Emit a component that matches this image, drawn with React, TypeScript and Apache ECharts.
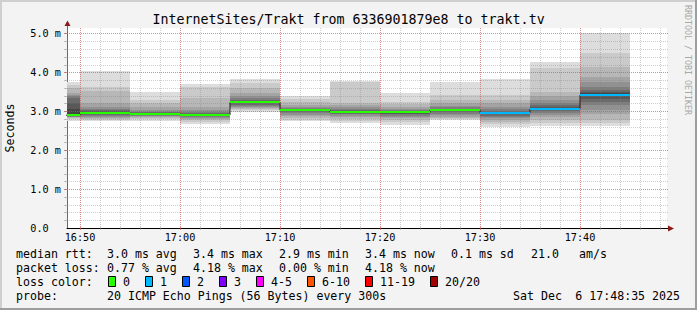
import React, { useEffect, useRef } from "react";
import * as echarts from "echarts";

const WIDTH = 697;
const HEIGHT = 310;

// time axis in minutes since midnight
const timeStart = 1008.7; // 16:48:42
const timeEnd = 1068.7; // 17:48:42
const stepMinutes = 5;
const yMax = 5.14;

const bucketEnds = [1010, 1015, 1020, 1025, 1030, 1035, 1040, 1045, 1050, 1055, 1060, 1065];
const medianMs = [2.9, 2.96, 2.93, 2.905, 3.23, 3.03, 2.98, 2.97, 3.03, 2.96, 3.06, 3.42];
const lossCount = [0, 0, 0, 0, 0, 0, 0, 0, 0, 1, 1, 1];

// 20 sorted ping round-trip times (ms) per 5-minute bucket
const pingsMs = [
  [2.75, 2.8, 2.82, 2.84, 2.85, 2.86, 2.87, 2.88, 2.89, 2.9, 2.93, 3.05, 3.2, 3.33, 3.38, 3.42, 3.46, 3.59, 3.68, 3.76],
  [2.75, 2.77, 2.8, 2.83, 2.86, 2.88, 2.9, 2.92, 2.93, 2.95, 2.97, 2.98, 3.0, 3.02, 3.05, 3.12, 3.22, 3.52, 3.63, 4.04],
  [2.75, 2.79, 2.82, 2.85, 2.87, 2.89, 2.9, 2.91, 2.92, 2.93, 2.94, 2.95, 2.96, 2.97, 2.99, 3.03, 3.12, 3.22, 3.29, 3.5],
  [2.67, 2.72, 2.77, 2.8, 2.83, 2.85, 2.87, 2.89, 2.9, 2.905, 2.915, 2.92, 2.93, 2.95, 2.98, 3.02, 3.12, 3.33, 3.63, 3.7],
  [2.99, 3.03, 3.05, 3.08, 3.12, 3.14, 3.17, 3.2, 3.22, 3.23, 3.24, 3.25, 3.27, 3.29, 3.33, 3.39, 3.46, 3.59, 3.72, 3.83],
  [2.75, 2.78, 2.82, 2.87, 2.91, 2.95, 2.98, 3.0, 3.02, 3.03, 3.04, 3.045, 3.05, 3.06, 3.08, 3.12, 3.17, 3.24, 3.31, 3.38],
  [2.69, 2.74, 2.8, 2.85, 2.89, 2.92, 2.94, 2.96, 2.97, 2.975, 2.985, 2.99, 3.0, 3.02, 3.05, 3.1, 3.15, 3.22, 3.76, 3.79],
  [2.65, 2.72, 2.78, 2.82, 2.86, 2.89, 2.92, 2.94, 2.96, 2.975, 2.985, 2.99, 3.0, 3.01, 3.03, 3.06, 3.12, 3.18, 3.25, 3.48],
  [2.78, 2.8, 2.83, 2.86, 2.9, 2.93, 2.97, 3.0, 3.02, 3.035, 3.045, 3.05, 3.06, 3.07, 3.1, 3.14, 3.21, 3.3, 3.42, 3.76],
  [2.6, 2.66, 2.72, 2.78, 2.83, 2.86, 2.89, 2.92, 2.94, 2.955, 2.965, 2.975, 2.99, 3.01, 3.05, 3.12, 3.21, 3.3, 3.42, 3.83],
  [2.62, 2.7, 2.78, 2.86, 2.9, 2.95, 3.0, 3.03, 3.05, 3.065, 3.075, 3.09, 3.11, 3.15, 3.21, 3.28, 3.38, 3.5, 4.11, 4.27],
  [2.62, 2.7, 2.78, 2.92, 3.03, 3.15, 3.25, 3.32, 3.38, 3.42, 3.44, 3.46, 3.5, 3.55, 3.63, 3.75, 3.89, 4.15, 4.49, 5.0],
];

const xLabelTimes = [1010, 1020, 1030, 1040, 1050, 1060];

const lossColors = ["#26ff00", "#00b8ff", "#0059ff", "#7e00ff", "#ff00ff", "#ff5500", "#ff0000", "#a10000"];
const lossLabels = ["0", "1", "2", "3", "4-5", "6-10", "11-19", "20/20"];

const titleText = "InternetSites/Trakt from 6336901879e8 to trakt.tv";
const rttStats = ["3.0 ms avg", "3.4 ms max", "2.9 ms min", "3.4 ms now", "0.1 ms sd", "21.0", "am/s"];
const lossStats = ["0.77 % avg", "4.18 % max", "0.00 % min", "4.18 % now"];
const probeText = "20 ICMP Echo Pings (56 Bytes) every 300s";
const dateParts = ["Sat Dec", "6 17:48:35 2025"];
const creditText = "RRDTOOL / TOBI OETIKER";

// layout
const MONO = "'DejaVu Sans Mono', monospace";
const GRID = { left: 67, top: 28, width: 600, height: 200 };
const statX = [107, 193, 279, 365, 451, 531, 579];
const lineY = [254, 268.3, 282, 296];
const smokeGrays = [221, 202, 183, 164, 145, 126, 107, 88, 69, 50];

function lossIndex(n: number) {
  if (n <= 0) return 0;
  if (n <= 3) return n;
  if (n <= 5) return 4;
  if (n <= 10) return 5;
  if (n <= 19) return 6;
  return 7;
}

function fmtTime(m: number) {
  const h = Math.floor(m / 60);
  const mm = Math.round(m - h * 60);
  return `${h}:${mm < 10 ? "0" : ""}${mm}`;
}

function buildOption() {
  // grid line definitions: [orientation (0 vertical, 1 horizontal), value, major]
  const gridDefs: number[][] = [];
  for (let t = 1010; t <= timeEnd; t += 2) gridDefs.push([0, t, 0]);
  for (let k = 1; k * 0.2 <= yMax; k++) gridDefs.push([1, +(k * 0.2).toFixed(1), 0]);
  for (let t = 1010; t <= timeEnd; t += 10) gridDefs.push([0, t, 1]);
  for (let v = 1; v <= yMax; v++) gridDefs.push([1, v, 1]);

  const graphics: any[] = [];
  const txt = (x: number, y: number, text: string, extra: any = {}) =>
    graphics.push({
      type: "text",
      x,
      y,
      silent: true,
      style: {
        text,
        fontFamily: MONO,
        fontSize: 11.6,
        fill: "#000",
        align: "left",
        verticalAlign: "middle",
        ...extra,
      },
    });

  // frame
  graphics.push({ type: "rect", shape: { x: 0, y: 0, width: WIDTH, height: 2 }, style: { fill: "#cfcfcf" }, silent: true });
  graphics.push({ type: "rect", shape: { x: 0, y: 0, width: 2, height: HEIGHT }, style: { fill: "#cfcfcf" }, silent: true });
  graphics.push({ type: "rect", shape: { x: 0, y: HEIGHT - 2, width: WIDTH, height: 2 }, style: { fill: "#9e9e9e" }, silent: true });
  graphics.push({ type: "rect", shape: { x: WIDTH - 2, y: 0, width: 2, height: HEIGHT }, style: { fill: "#9e9e9e" }, silent: true });

  // title
  txt(WIDTH / 2, 19.4, titleText, { fontSize: 13.3, align: "center" });

  // credit
  graphics.push({
    type: "text",
    x: 687.5,
    y: 60,
    rotation: -Math.PI / 2,
    silent: true,
    style: { text: creditText, fontFamily: MONO, fontSize: 8.3, fill: "#a8a8a8", align: "center", verticalAlign: "middle" },
  });

  // axis arrows
  const gx = GRID.left;
  const gb = GRID.top + GRID.height;
  const gr = GRID.left + GRID.width;
  graphics.push({ type: "line", shape: { x1: gx + 0.5, y1: GRID.top, x2: gx + 0.5, y2: 25 }, style: { stroke: "#6a6a6a", lineWidth: 1 }, silent: true });
  graphics.push({ type: "polygon", shape: { points: [[gx - 2.5, 26], [gx + 3.5, 26], [gx + 0.5, 20.5]] }, style: { fill: "#8e1b1b" }, silent: true });
  graphics.push({ type: "line", shape: { x1: gr, y1: gb + 0.5, x2: gr + 2, y2: gb + 0.5 }, style: { stroke: "#000", lineWidth: 1 }, silent: true });
  graphics.push({ type: "polygon", shape: { points: [[gr + 1, gb - 2.5], [gr + 1, gb + 3.5], [gr + 7, gb + 0.5]] }, style: { fill: "#8e1b1b" }, silent: true });

  // legend lines
  txt(16, lineY[0], "median rtt:");
  rttStats.forEach((s, i) => txt(statX[i], lineY[0], s));
  txt(16, lineY[1], "packet loss:");
  lossStats.forEach((s, i) => txt(statX[i], lineY[1], s));
  txt(16, lineY[2], "loss color:");
  let bx = 108;
  lossLabels.forEach((lab, i) => {
    graphics.push({
      type: "rect",
      silent: true,
      shape: { x: bx + 0.5, y: 276.5, width: 7, height: 10 },
      style: { fill: lossColors[i], stroke: "#000", lineWidth: 1 },
    });
    txt(bx + 15, lineY[2], lab);
    bx = bx + 15 + lab.length * 7 + 15;
  });
  txt(16, lineY[3], "probe:");
  txt(statX[0], lineY[3], probeText);
  txt(513, lineY[3], dateParts[0]);
  txt(680, lineY[3], dateParts[1], { align: "right" });

  const smokeData = bucketEnds.map((t, k) => [t, ...pingsMs[k]]);
  const medianData = bucketEnds.map((t, k) => [t, medianMs[k], lossCount[k]]);
  const stepData = [[bucketEnds[0] - stepMinutes, medianMs[0]], ...bucketEnds.map((t, k) => [t, medianMs[k]])];

  return {
    animation: false,
    backgroundColor: "#f3f3f3",
    grid: { ...GRID, show: true, backgroundColor: "#ffffff", borderWidth: 0, containLabel: false, outerBoundsMode: "none" },
    xAxis: {
      type: "value",
      min: timeStart,
      max: timeEnd,
      splitLine: { show: false },
      axisTick: { show: false },
      axisLine: { show: true, lineStyle: { color: "#000", width: 1 } },
      axisLabel: {
        customValues: xLabelTimes,
        formatter: (v: number) => fmtTime(v),
        fontFamily: MONO,
        fontSize: 10.2,
        color: "#000",
        margin: 4,
        align: "center",
        hideOverlap: false,
      },
    },
    yAxis: {
      type: "value",
      min: 0,
      max: yMax,
      interval: 1,
      name: "Seconds",
      nameLocation: "middle",
      nameRotate: 90,
      nameGap: 51,
      nameTextStyle: { fontFamily: MONO, fontSize: 11.6, color: "#000" },
      splitLine: { show: false },
      axisTick: { show: false },
      axisLine: { show: true, lineStyle: { color: "#6a6a6a", width: 1 } },
      axisLabel: {
        fontFamily: MONO,
        fontSize: 10.2,
        color: "#000",
        margin: 6,
        formatter: (v: number) => {
          if (v === 0) return "{z|0.0}";
          if (Math.abs(v - Math.round(v)) > 1e-9) return "";
          return v.toFixed(1) + " m";
        },
        rich: { z: { fontFamily: MONO, fontSize: 10.2, color: "#000", padding: [0, 12.3, 0, 0] } },
      },
    },
    graphic: { elements: graphics },
    series: [
      {
        type: "custom",
        name: "smoke",
        silent: true,
        z: 2,
        dimensions: ["t", ...pingsMs[0].map((_, i) => "p" + i)],
        encode: { x: 0, y: 1 },
        data: smokeData,
        renderItem: (params: any, api: any) => {
          const cs = params.coordSys;
          const t = api.value(0);
          const x0 = Math.max(cs.x, Math.round(api.coord([t - stepMinutes, 0])[0]));
          const x1 = Math.min(cs.x + cs.width, Math.round(api.coord([t, 0])[0]));
          const children: any[] = [];
          for (let i = 0; i < 10; i++) {
            const lo = api.value(1 + i);
            const hi = api.value(20 - i);
            const yTop = Math.round(api.coord([t, hi])[1]);
            const yBot = Math.round(api.coord([t, lo])[1]);
            const g = smokeGrays[i];
            children.push({
              type: "rect",
              shape: { x: x0, y: yTop, width: x1 - x0, height: Math.max(1, yBot - yTop) },
              style: { fill: `rgb(${g},${g},${g})` },
            });
          }
          return { type: "group", children };
        },
      },
      {
        type: "custom",
        name: "grid",
        silent: true,
        z: 3,
        dimensions: ["o", "v", "m"],
        encode: { x: 1, y: 1 },
        data: gridDefs,
        renderItem: (params: any, api: any) => {
          const cs = params.coordSys;
          const o = api.value(0);
          const v = api.value(1);
          const major = api.value(2) === 1;
          const color = major ? "rgba(230,60,60,0.45)" : "rgba(130,130,130,0.38)";
          if (o === 0) {
            const x = Math.round(api.coord([v, 0])[0]) + 0.5;
            return {
              type: "group",
              children: [
                { type: "line", shape: { x1: x, y1: cs.y + cs.height + 1, x2: x, y2: cs.y }, style: { stroke: color, lineWidth: 1, lineDash: [1, 1] } },
                { type: "line", shape: { x1: x, y1: cs.y + cs.height - 1, x2: x, y2: cs.y + cs.height + 2 }, style: { stroke: color, lineWidth: 1 } },
              ],
            };
          }
          const y = Math.round(api.coord([timeStart, v])[1]) + 0.5;
          return {
            type: "group",
            children: [
              { type: "line", shape: { x1: cs.x - 2, y1: y, x2: cs.x + cs.width + 2, y2: y }, style: { stroke: color, lineWidth: 1, lineDash: [1, 1] } },
              { type: "line", shape: { x1: cs.x - 3, y1: y, x2: cs.x, y2: y }, style: { stroke: color, lineWidth: 1 } },
            ],
          };
        },
      },
      {
        type: "line",
        name: "median",
        silent: true,
        z: 4,
        step: "start",
        showSymbol: false,
        clip: true,
        data: stepData,
        lineStyle: { color: "#202020", width: 1 },
      },
      {
        type: "custom",
        name: "medianLoss",
        silent: true,
        z: 5,
        dimensions: ["t", "median", "loss"],
        encode: { x: 0, y: 1 },
        data: medianData,
        renderItem: (params: any, api: any) => {
          const cs = params.coordSys;
          const t = api.value(0);
          const m = api.value(1);
          const loss = api.value(2);
          const x0 = Math.max(cs.x, Math.round(api.coord([t - stepMinutes, m])[0]));
          const x1 = Math.min(cs.x + cs.width, Math.round(api.coord([t, m])[0]));
          const y = Math.round(api.coord([t, m])[1]);
          return {
            type: "rect",
            shape: { x: x0, y: y - 1, width: x1 - x0, height: 2 },
            style: { fill: lossColors[lossIndex(loss)] },
          };
        },
      },
    ],
  };
}

export default function App() {
  const ref = useRef<HTMLDivElement>(null);
  useEffect(() => {
    if (!ref.current) return;
    const chart = echarts.init(ref.current, undefined, { renderer: "svg", width: WIDTH, height: HEIGHT });
    chart.setOption(buildOption() as any);
    return () => chart.dispose();
  }, []);
  return <div ref={ref} style={{ position: "absolute", left: 0, top: 0, width: WIDTH, height: HEIGHT }} />;
}
